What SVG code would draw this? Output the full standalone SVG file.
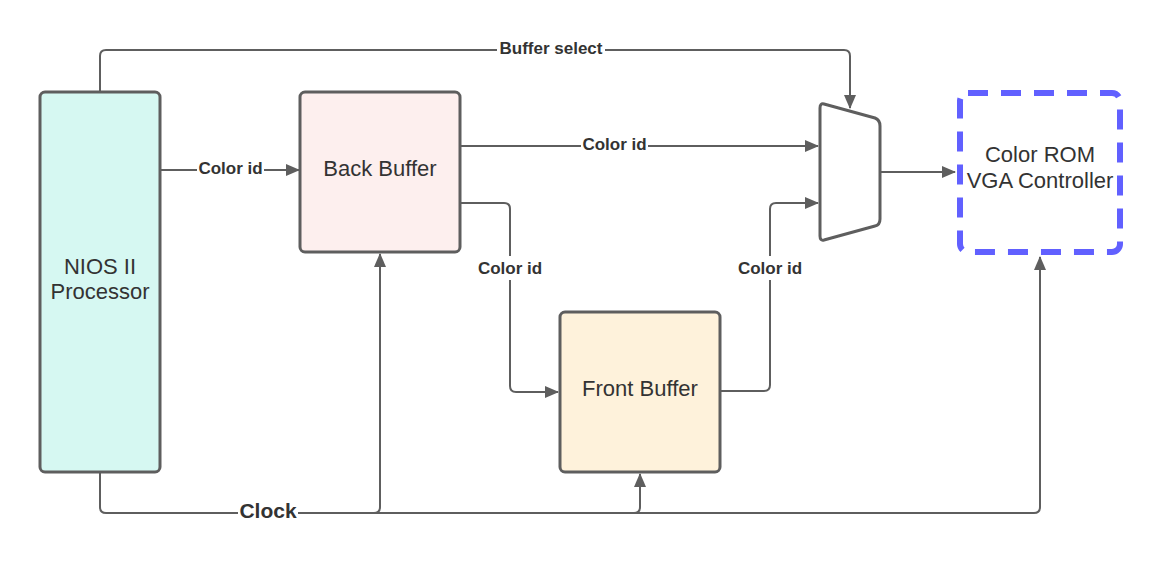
<svg xmlns="http://www.w3.org/2000/svg" width="1160" height="567" viewBox="0 0 1160 567">
<defs>
<marker id="arr" viewBox="0 0 14 12" refX="13" refY="6" markerWidth="14" markerHeight="12" markerUnits="userSpaceOnUse" orient="auto">
<path d="M0,0 L14,6 L0,12 Z" fill="#5e5e5e"/>
</marker>
</defs>
<style>
.box{stroke:#5e5e5e;stroke-width:3}
.lbl{font-family:"Liberation Sans",Arial,sans-serif;font-size:22px;fill:#333;text-anchor:middle}
.el{font-family:"Liberation Sans",Arial,sans-serif;font-size:17px;font-weight:bold;fill:#333;text-anchor:middle}
.bg{fill:#fff}
.c{fill:none;stroke:#5e5e5e;stroke-width:2}
.ca{fill:none;stroke:#5e5e5e;stroke-width:2;marker-end:url(#arr)}
</style>
<rect width="1160" height="567" fill="#fff"/>
<g id="connectors">
<path class="ca" d="M100,92 V56 Q100,50 106,50 H844 Q850,50 850,56 V108"/>
<path class="ca" d="M161,170 H299"/>
<path class="ca" d="M461,146 H818"/>
<path class="ca" d="M461,203 H504 Q510,203 510,209 V386 Q510,392 516,392 H558"/>
<path class="ca" d="M721,391 H764 Q770,391 770,385 V209 Q770,203 776,203 H818"/>
<path class="ca" d="M881,172 H955"/>
<path class="c" d="M100,473 V507 Q100,513 106,513 H1034 Q1040,513 1040,507 V257"/>
<path class="ca" d="M1040,300 V257"/>
<path class="c" d="M374,513 Q380,513 380,507 V300"/>
<path class="ca" d="M380,300 V254"/>
<path class="c" d="M634,513 Q640,513 640,507"/>
<path class="ca" d="M640,507 V474"/>
<rect class="bg" x="497" y="39" width="108" height="20"/>
<text class="el" x="551" y="54">Buffer select</text>
<rect class="bg" x="197" y="160" width="67" height="18"/>
<text class="el" x="230.5" y="174">Color id</text>
<rect class="bg" x="581" y="136" width="67" height="18"/>
<text class="el" x="614.5" y="150">Color id</text>
<rect class="bg" x="472" y="256" width="76" height="24"/>
<text class="el" x="510" y="274">Color id</text>
<rect class="bg" x="732" y="256" width="76" height="24"/>
<text class="el" x="770" y="274">Color id</text>
<rect class="bg" x="238" y="500" width="60" height="24"/>
<text class="el" x="268" y="518" style="font-size:21px">Clock</text>
</g>
<g id="nios">
<rect class="box" x="40" y="92" width="120" height="380" rx="5" fill="#d6f8f2"/>
<text class="lbl" x="100" y="274">NIOS II</text>
<text class="lbl" x="100" y="299">Processor</text>
</g>
<g id="back-buffer">
<rect class="box" x="300" y="92" width="160" height="160" rx="5" fill="#fdefee"/>
<text class="lbl" x="380" y="176">Back Buffer</text>
</g>
<g id="front-buffer">
<rect class="box" x="560" y="312" width="160" height="160" rx="5" fill="#fef2db"/>
<text class="lbl" x="640" y="396">Front Buffer</text>
</g>
<g id="mux">
<path class="box" fill="#fff" stroke-linejoin="round" d="M824,104 L875,118 Q880,120 880,126 V219 Q880,225 875,226 L824,240 Q820,241 820,236 V108 Q820,103 824,104 Z"/>
</g>
<g id="vga">
<rect x="960" y="93" width="160" height="159" rx="8" fill="none" stroke="#6160ff" stroke-width="6" stroke-dasharray="20 13"/>
<text class="lbl" x="1040" y="162">Color ROM</text>
<text class="lbl" x="1040" y="188">VGA Controller</text>
</g>
</svg>
